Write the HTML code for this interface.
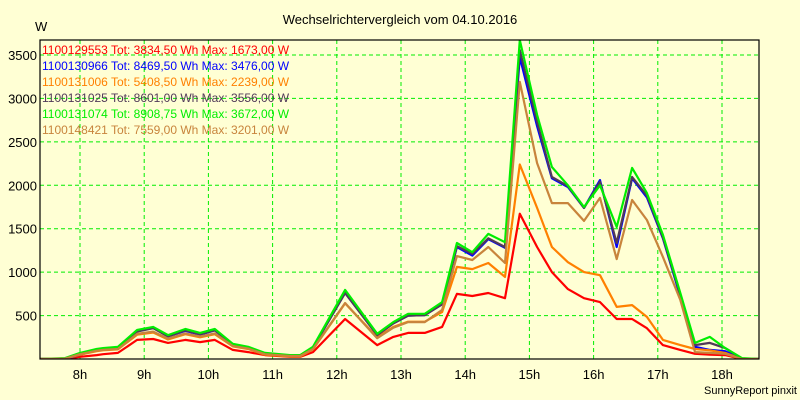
<!DOCTYPE html>
<html><head><meta charset="utf-8"><style>
body{margin:0;background:#ffffd4;}
svg{display:block;font-family:"Liberation Sans",sans-serif;}
</style></head><body>
<svg id="chart" width="800" height="400">
<rect x="0" y="0" width="800" height="400" fill="#ffffd4"/>
<text x="400" y="24" font-size="13" text-anchor="middle" fill="#000">Wechselrichtervergleich vom 04.10.2016</text>
<text x="35" y="31" font-size="13" fill="#000">W</text>
<text x="797" y="394" font-size="11" text-anchor="end" fill="#000">SunnyReport pinxit</text>
<g id="grid"></g><g id="series"></g><g id="axes"></g><g id="legend"></g>
</svg>
<script>
const times=[7.38,7.77,8.00,8.26,8.36,8.59,8.89,9.14,9.37,9.64,9.87,10.10,10.38,10.62,10.88,11.27,11.43,11.63,12.13,12.63,12.88,13.11,13.37,13.64,13.87,14.11,14.36,14.62,14.85,15.12,15.35,15.60,15.85,16.10,16.36,16.60,16.83,17.08,17.35,17.58,17.81,18.05,18.31,18.59];
const seriesRed=[0,0,25,45,55,70,220,230,185,220,195,220,105,80,45,25,25,80,460,160,255,300,300,370,750,725,760,700,1673,1290,1000,805,700,655,460,460,355,160,105,60,50,45,0,0];
const seriesBlue=[0,0,50,100,115,130,320,360,260,325,280,330,165,130,65,40,40,130,760,275,410,500,505,630,1290,1190,1380,1280,3476,2680,2080,1980,1740,2060,1290,2080,1860,1390,720,140,105,90,5,0];
const seriesOrange=[0,5,50,90,100,110,280,305,225,285,250,285,145,115,50,30,30,110,640,250,370,430,430,540,1060,1035,1105,945,2239,1740,1290,1115,1000,965,600,620,485,220,160,115,100,70,0,0];
const seriesPurple=[0,5,60,105,115,130,315,355,260,330,285,330,165,130,65,40,40,130,760,275,410,500,505,630,1300,1210,1390,1290,3556,2730,2095,1990,1740,2040,1335,2095,1880,1400,740,160,185,125,5,0];
const seriesGreen=[0,10,70,115,125,140,335,370,275,345,300,345,175,140,70,45,45,140,795,290,425,520,520,655,1335,1230,1440,1345,3672,2810,2210,2000,1750,2000,1520,2200,1910,1430,760,185,255,125,10,0];
const seriesBrown=[0,5,55,95,105,115,290,315,235,295,260,295,150,120,55,35,35,115,645,240,360,425,425,565,1185,1140,1290,1105,3190,2255,1795,1795,1590,1855,1150,1830,1600,1175,680,80,70,60,0,0];
const legendLabels=["1100129553 Tot: 3834,50 Wh Max: 1673,00 W","1100130966 Tot: 8469,50 Wh Max: 3476,00 W","1100131006 Tot: 5408,50 Wh Max: 2239,00 W","1100131025 Tot: 8601,00 Wh Max: 3556,00 W","1100131074 Tot: 8908,75 Wh Max: 3672,00 W","1100148421 Tot: 7559,00 Wh Max: 3201,00 W"];
const yTicks=[500,1000,1500,2000,2500,3000,3500];
const xTicks=[8,9,10,11,12,13,14,15,16,17,18];

const NS="http://www.w3.org/2000/svg";
const L=40,R=759,T=40,B=359;
function xs(h){return 80+(h-8)*64.2;}
function ys(v){return B-v*0.08686;}
function mk(tag,attrs,parent){const e=document.createElementNS(NS,tag);for(const k in attrs)e.setAttribute(k,attrs[k]);parent.appendChild(e);return e;}
const grid=document.getElementById('grid'),axes=document.getElementById('axes'),ser=document.getElementById('series'),leg=document.getElementById('legend');
const defs=mk('defs',{},document.getElementById('chart'));
const cp=mk('clipPath',{id:'plotclip'},defs);mk('rect',{x:L,y:T,width:R-L,height:B-T},cp);
yTicks.forEach(v=>{
 const l=mk('line',{x1:L,x2:R,y1:ys(v),y2:ys(v),stroke:'#00ee00','stroke-dasharray':'4,3','stroke-width':1},grid);
 
 
 const t=mk('text',{x:37,y:ys(v)+5,'font-size':13,'text-anchor':'end',fill:'#000'},axes);
 t.textContent=v;
 
 
});
xTicks.forEach(h=>{
 const l=mk('line',{x1:xs(h),x2:xs(h),y1:T,y2:B,stroke:'#00ee00','stroke-dasharray':'4,3','stroke-width':1},grid);
 
 
 const t=mk('text',{x:xs(h),y:379,'font-size':13,'text-anchor':'middle',fill:'#000'},axes);
 t.textContent=h+'h';
 
 
});
const frame=mk('rect',{x:L,y:T,width:R-L,height:B-T,fill:'none',stroke:'#000','stroke-width':1.2},axes);


const list=[[seriesRed,'#ff0000','line-1100129553'],[seriesBlue,'#0000ff','line-1100130966'],[seriesOrange,'#ff8000','line-1100131006'],[seriesPurple,'#503a58','line-1100131025'],[seriesGreen,'#00ee00','line-1100131074'],[seriesBrown,'#c8843c','line-1100148421']];
const g=mk('g',{'clip-path':'url(#plotclip)'},ser);
list.forEach(s=>{
 const d=s[0].map((v,i)=>(i?'L':'M')+xs(times[i]).toFixed(1)+','+ys(v).toFixed(1)).join(' ');
 const p=mk('path',{d:d,fill:'none',stroke:s[1],'stroke-width':2.2,'stroke-linejoin':'round'},g);
 
 
});
const legColors=['#ff0000','#0000ff','#ff8000','#503a58','#00ee00','#c8843c'];
legendLabels.forEach((txt,i)=>{
 const t=mk('text',{x:42,y:54+i*16,'font-size':12,fill:legColors[i]},leg);
 t.textContent=txt;
 
 
});
</script>
</body></html>
